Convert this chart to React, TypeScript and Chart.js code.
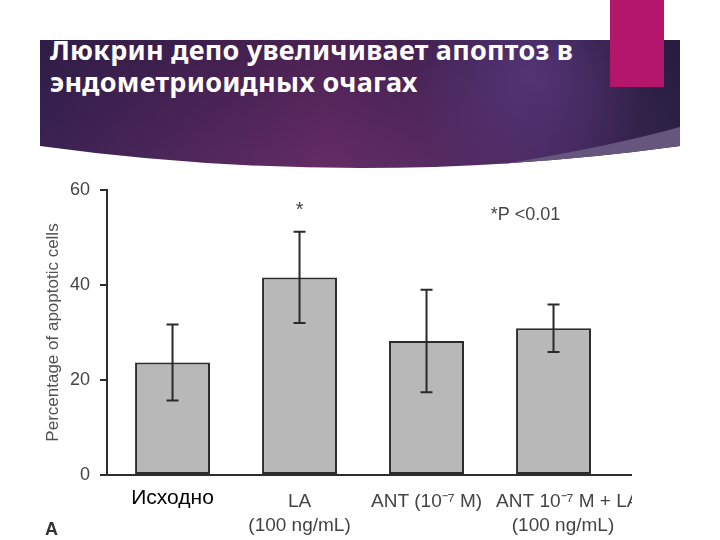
import React, { useEffect, useRef } from "react";
import { Chart, registerables } from "chart.js";

Chart.register(...registerables);

// ---- data ----
const categories = ["Исходно", "LA", "ANT (10⁻⁷ M)", "ANT 10⁻⁷ M + LA"];
const tickLabels: (string | string[])[] = [
  "Исходно",
  ["LA", "(100 ng/mL)"],
  "ANT (10⁻⁷ M)",
  ["\u2002\u2002\u2002ANT 10⁻⁷ M + LA", "\u2002\u2002(100 ng/mL)"],
];
const means = [23.7, 41.6, 28.2, 30.9];
const errors = [8.0, 9.6, 10.8, 5.0];
const yTickValues = [0, 20, 40, 60];
const yTitle = "Percentage of apoptotic cells";
const starMarks = [{ index: 1, value: 55.6, text: "*" }];
const pNote = { xValue: 2.78, value: 54.7, text: "*P <0.01" };
const titleLines = ["Люкрин депо увеличивает апоптоз в", "эндометриоидных очагах"];

const AXIS = "#2e2e2e";
const LABEL = "#444444";
const FONT = "'Liberation Sans', Arial, sans-serif";

const errorBarPlugin = {
  id: "errorBars",
  afterDatasetsDraw(chart: any) {
    const { ctx, scales } = chart;
    const x = scales.x;
    const y = scales.y;
    ctx.save();
    ctx.strokeStyle = "#2a2a2a";
    ctx.lineWidth = 2;
    means.forEach((m, i) => {
      const px = x.getPixelForValue(i);
      const top = y.getPixelForValue(m + errors[i]);
      const bot = y.getPixelForValue(m - errors[i]);
      ctx.beginPath();
      ctx.moveTo(px, top);
      ctx.lineTo(px, bot);
      ctx.moveTo(px - 6, top);
      ctx.lineTo(px + 6, top);
      ctx.moveTo(px - 6, bot);
      ctx.lineTo(px + 6, bot);
      ctx.stroke();
    });
    ctx.fillStyle = LABEL;
    ctx.textAlign = "center";
    ctx.textBaseline = "middle";
    ctx.font = `20px ${FONT}`;
    starMarks.forEach((s) => {
      ctx.fillText(s.text, x.getPixelForValue(s.index), y.getPixelForValue(s.value));
    });
    ctx.font = `18px ${FONT}`;
    ctx.fillText(pNote.text, x.getPixelForValue(pNote.xValue), y.getPixelForValue(pNote.value));
    ctx.restore();
  },
};

function BarChart() {
  const ref = useRef<HTMLCanvasElement | null>(null);
  useEffect(() => {
    if (!ref.current) return;
    const chart = new Chart(ref.current, {
      type: "bar",
      data: {
        labels: categories,
        datasets: [
          {
            data: means.map((v, i) => ({ x: i, y: v })) as any,
            backgroundColor: "#b8b8b8",
            borderColor: "#2b2b2b",
            borderWidth: 2,
            borderSkipped: false,
            barPercentage: 0.59,
            categoryPercentage: 1,
          },
        ],
      },
      options: {
        animation: false,
        responsive: false,
        devicePixelRatio: 1,
        layout: { padding: { top: 20, left: 0, right: 0, bottom: 0 }, autoPadding: false },
        plugins: { legend: { display: false }, tooltip: { enabled: false } },
        scales: {
          x: {
            type: "linear",
            offset: false,
            min: -0.516,
            max: 3.618,
            grid: { display: false, drawTicks: false },
            border: { display: true, color: AXIS, width: 2 },
            afterBuildTicks: (axis: any) => {
              axis.ticks = categories.map((_, i) => ({ value: i }));
            },
            afterFit: (scale: any) => {
              scale.height = 65;
              scale.paddingLeft = 0;
              scale.paddingRight = 0;
            },
            ticks: {
              autoSkip: false,
              maxRotation: 0,
              minRotation: 0,
              padding: 15,
              color: (ctx: any) => (ctx.index === 0 ? "#000000" : LABEL),
              font: (ctx: any) =>
                ctx.index === 0
                  ? { family: FONT, size: 21, lineHeight: 0.75 }
                  : { family: FONT, size: 19, lineHeight: 1.25 },
              callback: (_v: any, index: number) => tickLabels[index],
            },
          },
          y: {
            min: 0,
            max: 60,
            afterBuildTicks: (axis: any) => {
              axis.ticks = yTickValues.map((v) => ({ value: v }));
            },
            afterFit: (scale: any) => {
              scale.width = 107;
              scale.paddingTop = 0;
              scale.paddingBottom = 0;
            },
            grid: {
              display: true,
              drawOnChartArea: false,
              drawTicks: true,
              tickLength: 7,
              color: AXIS,
              lineWidth: 2,
            },
            border: { display: true, color: AXIS, width: 2 },
            ticks: {
              padding: 10,
              color: LABEL,
              font: { family: FONT, size: 18 },
            },
            title: {
              display: true,
              text: yTitle,
              color: "#505050",
              font: { family: FONT, size: 17 },
              padding: { top: 43, bottom: 0 },
            },
          },
        },
      },
      plugins: [errorBarPlugin],
    } as any);
    return () => chart.destroy();
  }, []);
  return (
    <canvas
      ref={ref}
      width={632}
      height={370}
      style={{ position: "absolute", left: 0, top: 170, width: 632, height: 370 }}
    />
  );
}

function Header() {
  return (
    <>
      <svg width={720} height={190} style={{ position: "absolute", left: 0, top: 0 }}>
        <defs>
          <linearGradient id="bg" x1="40" y1="0" x2="680" y2="0" gradientUnits="userSpaceOnUse">
            <stop offset="0" stopColor="#3b2353" />
            <stop offset="0.45" stopColor="#652c66" />
            <stop offset="0.78" stopColor="#4a295f" />
            <stop offset="1" stopColor="#2d2347" />
          </linearGradient>
          <linearGradient id="shade" x1="0" y1="40" x2="0" y2="170" gradientUnits="userSpaceOnUse">
            <stop offset="0" stopColor="#1a0f2e" stopOpacity="0.35" />
            <stop offset="1" stopColor="#1a0f2e" stopOpacity="0" />
          </linearGradient>
          <radialGradient id="glow" cx="530" cy="75" r="120" gradientUnits="userSpaceOnUse">
            <stop offset="0" stopColor="#5c3c84" stopOpacity="0.7" />
            <stop offset="1" stopColor="#5c3c84" stopOpacity="0" />
          </radialGradient>
          <clipPath id="bannerClip">
            <path d="M40 40 H680 V146 Q360 190 40 146 Z" />
          </clipPath>
        </defs>
        <path d="M40 40 H680 V146 Q360 190 40 146 Z" fill="url(#bg)" />
        <path d="M40 40 H680 V146 Q360 190 40 146 Z" fill="url(#shade)" />
        <path d="M40 40 H680 V146 Q360 190 40 146 Z" fill="url(#glow)" />
        <g clipPath="url(#bannerClip)">
          <path d="M680 127 Q590 152 450 172 L690 180 Z" fill="#66567e" />
        </g>
        <rect x={610} y={0} width={54} height={87} fill="#b3166b" />
      </svg>
      <div
        style={{
          position: "absolute",
          left: 50,
          top: 34,
          color: "#ffffff",
          fontFamily: "'Noto Sans', 'DejaVu Sans', sans-serif",
          fontWeight: 700,
          fontSize: 27,
          letterSpacing: "0.25px",
          lineHeight: "32px",
          whiteSpace: "nowrap",
        }}
      >
        {titleLines.map((t, i) => (
          <div key={i}>{t}</div>
        ))}
      </div>
    </>
  );
}

export default function App() {
  return (
    <div
      style={{
        position: "fixed",
        left: 0,
        top: 0,
        width: 720,
        height: 540,
        background: "#ffffff",
        overflow: "hidden",
      }}
    >
      <Header />
      <BarChart />
      <div
        style={{
          position: "absolute",
          left: 45,
          top: 520,
          fontFamily: FONT,
          fontWeight: 700,
          fontSize: 18,
          lineHeight: "18px",
          color: "#333333",
        }}
      >
        A
      </div>
    </div>
  );
}
